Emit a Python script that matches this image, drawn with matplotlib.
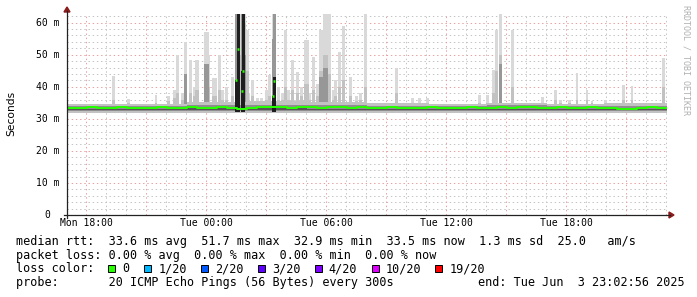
import numpy as np
import matplotlib
matplotlib.use("Agg")
import matplotlib.pyplot as plt
from matplotlib.lines import Line2D
from matplotlib.patches import Rectangle, Polygon
from matplotlib.transforms import blended_transform_factory

W, H = 697, 297

# ---------------- data ----------------
span_hours = 30.0                 # Mon 17:03 .. Tue 23:03
step_hours = 5 / 60               # 300 s probe step
x_tick_hours = [0.95, 6.95, 12.95, 18.95, 24.95]
x_tick_labels = ["Mon 18:00", "Tue 00:00", "Tue 06:00", "Tue 12:00", "Tue 18:00"]
y_ticks = [0, 10, 20, 30, 40, 50, 60]
y_tick_labels = ["0", "10 m", "20 m", "30 m", "40 m", "50 m", "60 m"]

# median rtt (ms), 30-minute blocks
base_median = [33.5, 33.4, 33.6, 33.3, 33.5, 33.6, 33.4, 33.5, 33.3, 33.6,
               33.5, 33.4, 33.7, 33.5, 33.4, 33.6, 33.3, 33.2, 33.4, 33.6,
               33.7, 33.6, 33.5, 33.7, 33.6, 33.5, 33.7, 33.6, 33.5, 33.6,
               33.4, 33.5, 33.6, 33.3, 33.5, 33.4, 33.6, 33.5, 33.4, 33.5,
               33.6, 33.5, 33.4, 33.6, 33.5, 33.7, 33.6, 33.5, 33.4, 33.6,
               33.5, 33.4, 33.6, 33.5, 33.3, 33.1, 33.2, 33.5, 33.6, 33.5]

# smoke envelope (ms), 3-hour blocks
smoke_outer_low = [31.8, 31.8, 31.7, 31.7, 31.8, 31.8, 31.8, 31.8, 31.8, 31.8]
smoke_outer_high = [34.6, 34.7, 35.3, 35.6, 35.4, 34.8, 34.7, 34.9, 34.7, 34.8]
smoke_inner_low = [32.4, 32.4, 32.3, 32.3, 32.4, 32.4, 32.4, 32.4, 32.4, 32.4]
smoke_inner_high = [34.1, 34.1, 34.3, 34.4, 34.3, 34.1, 34.1, 34.2, 34.1, 34.1]
smoke_core_low = [32.7, 32.7, 32.6, 32.6, 32.7, 32.7, 32.7, 32.7, 32.7, 32.7]
smoke_core_high = [33.2, 33.2, 33.3, 33.3, 33.2, 33.2, 33.2, 33.2, 33.2, 33.2]

# latency spikes: start (hours), duration (steps), max ping, upper-quartile ping,
# darker smoke top, black smoke top (0 = none), median when elevated (0 = none)
spike_t = [2.25, 3.0, 4.4, 5.3, 5.45, 5.85, 6.1, 6.3, 6.42, 6.85,
           7.0, 7.25, 7.55, 7.9, 8.2, 8.4, 8.48, 8.68, 8.75, 8.93,
           9.18, 9.45, 9.65, 10.03, 10.23, 10.3, 10.5, 10.85, 11.2, 11.45,
           11.85, 12.23, 12.6, 12.8, 13.05, 13.35, 13.55, 13.75, 14.1, 14.85,
           16.4, 17.2, 17.55, 17.95, 20.55, 20.95, 21.25, 21.4, 21.6, 22.2,
           23.7, 24.35, 24.6, 25.05, 25.45, 25.95, 26.2, 26.85, 27.75, 28.2,
           29.75, 5.0, 5.7, 7.7, 9.0, 9.9, 10.7, 11.0, 11.65, 12.05, 12.45,
           13.25, 14.4, 14.6, 8.6, 8.88]
spike_steps = [2, 2, 1, 2, 2, 2, 2, 2, 2, 3,
               2, 3, 2, 2, 2, 1, 2, 1, 2, 2,
               2, 2, 2, 2, 1, 2, 2, 2, 2, 2,
               3, 2, 3, 3, 2, 2, 2, 2, 2, 2,
               2, 2, 2, 2, 2, 2, 2, 2, 2, 2,
               2, 2, 2, 2, 1, 1, 1, 2, 2, 1,
               2, 2, 2, 2, 2, 2, 2, 2, 2, 2, 2,
               2, 2, 2, 1, 1]
spike_max = [43.4, 36.2, 37.4, 39.0, 49.9, 54.1, 48.4, 40.0, 48.4, 57.2,
             50.0, 42.7, 50.0, 40.0, 43.0, 65.0, 65.0, 65.0, 65.0, 57.7,
             42.0, 36.5, 36.5, 43.7, 65.0, 65.0, 40.0, 57.7, 48.4, 44.7,
             54.6, 49.4, 57.7, 65.0, 65.0, 42.0, 51.0, 59.0, 43.0, 65.0,
             45.8, 36.5, 36.5, 36.5, 37.4, 37.4, 45.2, 57.7, 65.0, 57.7,
             36.8, 39.0, 36.0, 36.0, 44.3, 39.0, 35.6, 35.8, 40.6, 40.2,
             48.9, 37.0, 38.0, 39.0, 38.0, 39.0, 38.0, 39.0, 40.0, 38.0, 41.0,
             39.0, 37.0, 38.0, 65.0, 65.0]
spike_mid = [36.0, 35.0, 35.0, 36.5, 38.0, 42.0, 38.0, 37.0, 39.0, 45.0,
             40.0, 37.0, 39.0, 36.0, 37.0, 65.0, 65.0, 65.0, 65.0, 45.0,
             37.0, 35.0, 35.0, 37.0, 50.0, 65.0, 36.0, 40.0, 39.0, 38.0,
             41.0, 39.0, 45.0, 50.0, 44.0, 37.0, 40.0, 42.0, 37.0, 40.0,
             38.0, 35.0, 35.0, 35.0, 35.0, 35.0, 38.0, 45.0, 50.0, 40.0,
             35.0, 36.0, 35.0, 35.0, 36.0, 36.0, 35.0, 35.0, 36.0, 36.0,
             40.0, 35.5, 36.0, 36.0, 36.0, 36.0, 36.0, 36.0, 37.0, 36.0, 37.0,
             36.0, 35.5, 36.0, 50.0, 60.0]
spike_deep = [0] * 5 + [44.0, 0, 0, 0, 47.0] + [0] * 5 + [65.0, 65.0, 65.0, 65.0, 0] + \
             [0] * 4 + [55.0, 65.0] + [0] * 6 + [43.0, 46.0, 0] + [0] * 13 + [47.0] + \
             [0] * 12 + [0] * 13 + [0, 50.0]
spike_dark = [0] * 15 + [42.0, 65.0, 45.0, 65.0] + [0] * 5 + [37.0, 43.0] + [0] * 50
spike_med = [0] * 15 + [42.0, 51.8, 38.7, 44.9] + [0] * 5 + [37.1, 41.9] + [0] * 50

rtt_stats = ["33.6", "51.7", "32.9", "33.5", "1.3", "25.0"]
loss_stats = ["0.00", "0.00", "0.00", "0.00"]
loss_labels = ["0", "1/20", "2/20", "3/20", "4/20", "10/20", "19/20"]
loss_colors = ["#26ff00", "#00b8ff", "#0059ff", "#5e00ff", "#7e00ff", "#dd00ff", "#ff0000"]
probe_text = "20 ICMP Echo Pings (56 Bytes) every 300s"
end_text = "end: Tue Jun  3 23:02:56 2025"

# ---------------- figure ----------------
fig = plt.figure(figsize=(W / 100, H / 100), dpi=100)
fig.patch.set_facecolor("white")

L, R, T, B = 67, 667, 14, 215
ax = fig.add_axes([L / W, 1 - B / H, (R - L) / W, (B - T) / H])
ax.set_xlim(0, span_hours)
ax.set_ylim(0, 62.7)
for s in ax.spines.values():
    s.set_visible(False)
ax.set_xticks([])
ax.set_yticks([])

def px(x, y):
    return (x / W, 1 - y / H)

MONO = "DejaVu Sans Mono"
GRID_MINOR = "#c4c4c4"
GRID_MAJOR = "#eaa0a0"

# grid
for v in np.arange(0, 62.7, 2):
    major = abs(v % 10) < 1e-6
    ax.axhline(v, color=GRID_MAJOR if major else GRID_MINOR, lw=0.72,
               dashes=(1.4, 2.8), zorder=0.5)
for h in np.arange(0.95, span_hours, 1.0):
    major = abs(((h - 0.95) % 3)) < 1e-6
    ax.axvline(h, color=GRID_MAJOR if major else GRID_MINOR, lw=0.72,
               dashes=(1.4, 2.8), zorder=0.5)

# spikes (light / mid / deep)
sw = np.array(spike_steps) * step_hours
st = np.array(spike_t)
smax = np.array(spike_max)
smid = np.array(spike_mid)
sdeep = np.array(spike_deep)
sdark = np.array(spike_dark)
smed = np.array(spike_med)
ax.bar(st, smax - 33, bottom=33, width=sw, align="edge", color="#d9d9d9", lw=0, zorder=1)
ax.bar(st, smid - 33, bottom=33, width=sw, align="edge", color="#c2c2c2", lw=0, zorder=1.2)
md = sdeep > 0
ax.bar(st[md], sdeep[md] - 33, bottom=33, width=sw[md], align="edge", color="#979797",
       lw=0, zorder=1.3)

# smoke band
edges = np.arange(len(smoke_outer_low) + 1) * 3.0
def ext(a):
    return list(a) + [a[-1]]
ax.fill_between(edges, ext(smoke_outer_low), ext(smoke_outer_high), step="post",
                color="#c2c2c2", lw=0, zorder=1.5)
ax.fill_between(edges, ext(smoke_inner_low), ext(smoke_inner_high), step="post",
                color="#8e8e8e", lw=0, zorder=1.6)
ax.fill_between(edges, ext(smoke_core_low), ext(smoke_core_high), step="post",
                color="#555555", lw=0, zorder=1.7)

# dark columns
m = sdark > 0
ax.bar(st[m], sdark[m] - 32, bottom=32, width=sw[m], align="edge", color="#1e1e1e", lw=0, zorder=1.8)

# median line
med_edges = np.arange(len(base_median) + 1) * 0.5
ax.step(med_edges, ext(base_median), where="post", color=loss_colors[0], lw=1.44, zorder=3)
m2 = smed > 0
ax.hlines(smed[m2], st[m2], st[m2] + step_hours * 1.2, color=loss_colors[0], lw=1.8, zorder=3.1)

# axes lines + arrows
AX_C = "#222222"
ARROW_C = "#8b1a1a"
fig.add_artist(Line2D([L / W, L / W], [1 - 218 / H, 1 - 11 / H], color=AX_C, lw=0.9))
fig.add_artist(Line2D([64 / W, 670 / W], [1 - B / H, 1 - B / H], color=AX_C, lw=0.9))
fig.add_artist(Polygon([px(64, 12), px(70, 12), px(67, 7)], closed=True, color=ARROW_C))
fig.add_artist(Polygon([px(669, 212), px(669, 218), px(674, 215)], closed=True, color=ARROW_C))

# tick labels
ty = blended_transform_factory(fig.transFigure, ax.transData)
for v, lab in zip(y_ticks, y_tick_labels):
    ax.text(47.5 / W, v, lab, transform=ty, ha="center", va="center",
            family=MONO, fontsize=7, color="black")
tx = blended_transform_factory(ax.transData, fig.transFigure)
for h, lab in zip(x_tick_hours, x_tick_labels):
    ax.text(h, 1 - 223.5 / H, lab, transform=tx, ha="center", va="center",
            family=MONO, fontsize=7, color="black")

fig.text(*px(11, 113), "Seconds", rotation=90, ha="center", va="center",
         family="DejaVu Sans", fontsize=7.7, color="black")
fig.text(*px(686, 5), "RRDTOOL / TOBI OETIKER", rotation=-90, ha="center", va="top",
         family=MONO, fontsize=6, color="#b0b0b0")

# legend
CW = 7.11
X0 = 16
FS = 8.5
line1 = ("median rtt:  {} ms avg  {} ms max  {} ms min  {} ms now  {} ms sd  {}   am/s"
         .format(*rtt_stats))
line2 = "packet loss: {} % avg  {} % max  {} % min  {} % now".format(*loss_stats)
line4 = "probe:       " + probe_text
fig.text(*px(X0, 241), line1, ha="left", va="center", family=MONO, fontsize=FS)
fig.text(*px(X0, 255), line2, ha="left", va="center", family=MONO, fontsize=FS)
fig.text(*px(X0, 282.5), line4, ha="left", va="center", family=MONO, fontsize=FS)
fig.text(*px(X0 + 65 * CW, 282.5), end_text, ha="left", va="center", family=MONO, fontsize=FS)

fig.text(*px(X0, 268.5), "loss color:", ha="left", va="center", family=MONO, fontsize=FS)
col = 13
for lab, c in zip(loss_labels, loss_colors):
    bx = X0 + col * CW
    fig.add_artist(Rectangle(px(bx, 272), 7 / W, 7 / H, facecolor=c,
                             edgecolor="black", lw=0.7, transform=fig.transFigure))
    fig.text(*px(X0 + (col + 2) * CW, 268.5), lab, ha="left", va="center",
             family=MONO, fontsize=FS)
    col += 2 + len(lab) + 2

fig.savefig("out.png", dpi=100, facecolor="white")
